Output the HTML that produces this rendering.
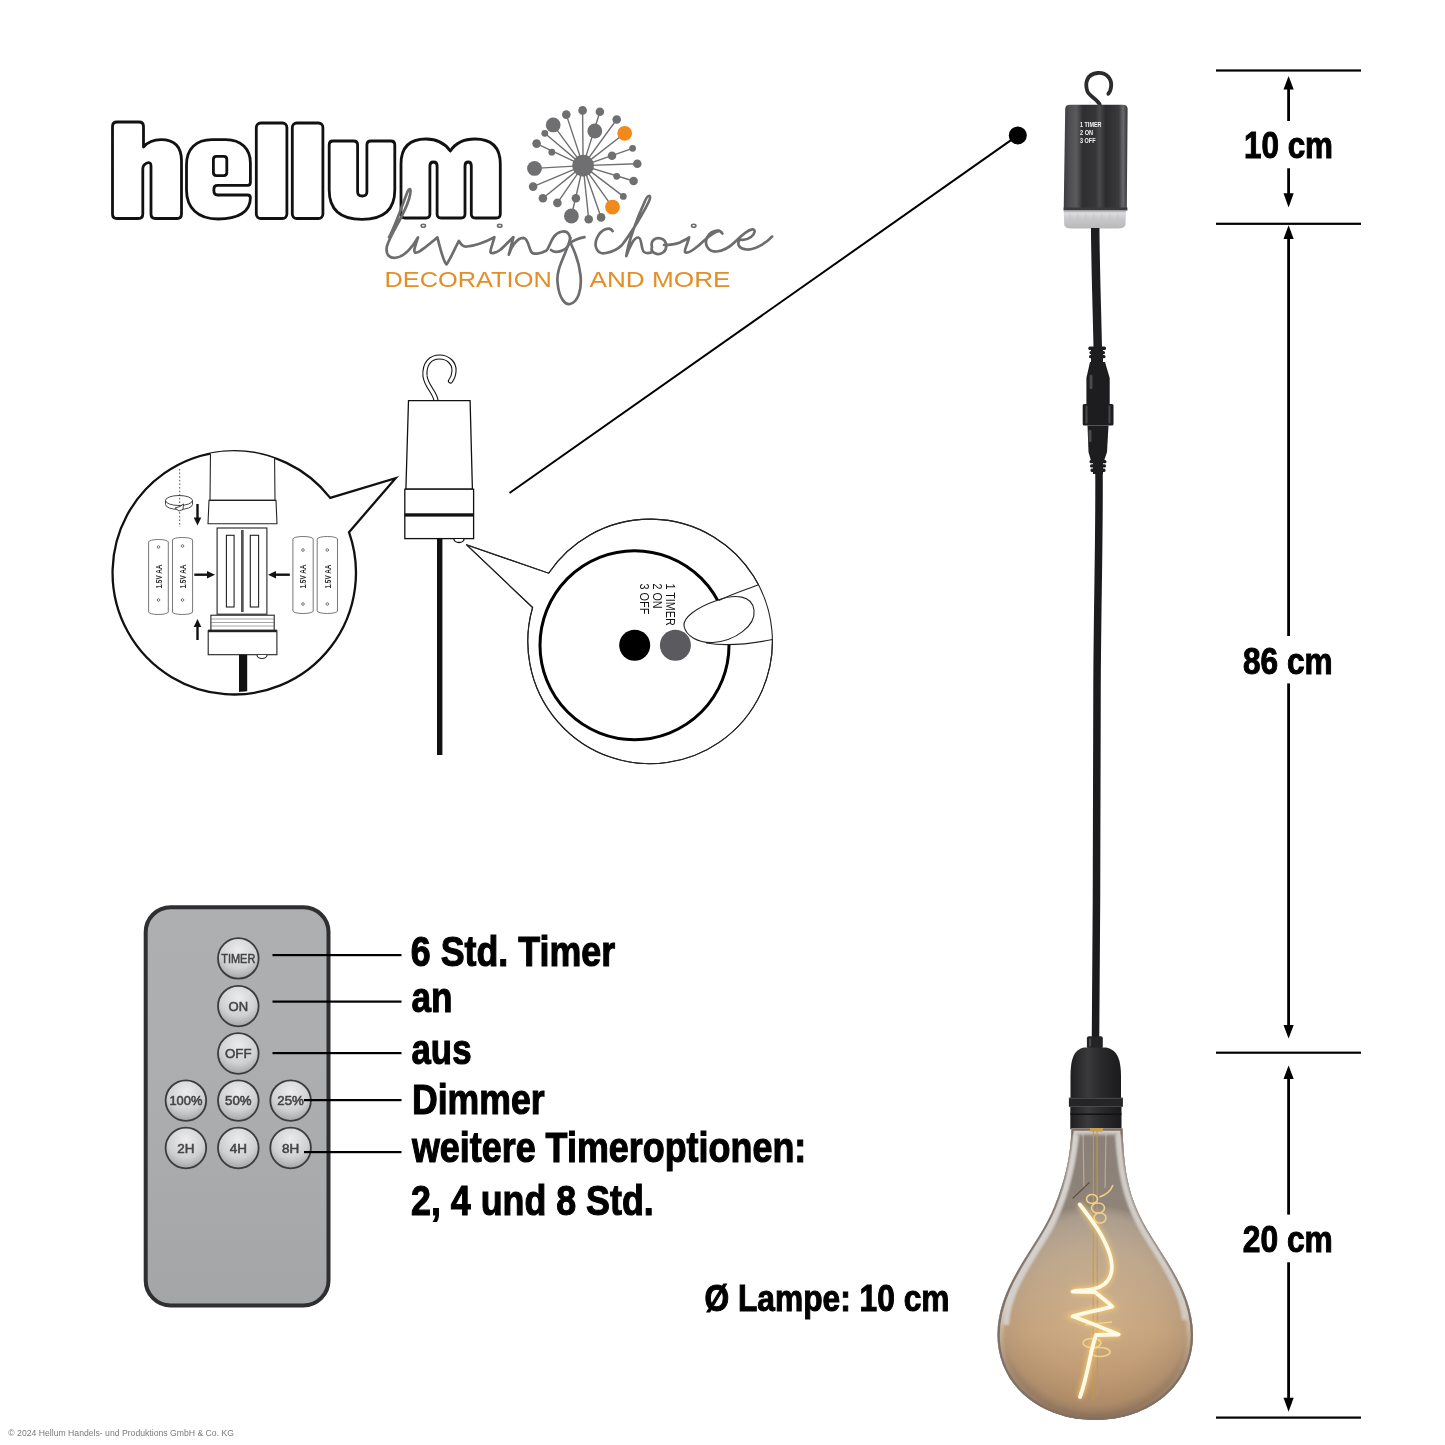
<!DOCTYPE html>
<html><head><meta charset="utf-8">
<style>
html,body{margin:0;padding:0;background:#fff;}
body{width:1445px;height:1445px;overflow:hidden;position:relative;}
svg{position:absolute;left:0;top:0;will-change:transform;}
text{font-family:"Liberation Sans",sans-serif;}
</style></head>
<body>
<svg width="1445" height="1445" viewBox="0 0 1445 1445">
<defs>
<radialGradient id="btnG" cx="0.5" cy="0.3" r="0.75">
<stop offset="0" stop-color="#ececed"/><stop offset="0.6" stop-color="#cfd0d2"/><stop offset="1" stop-color="#9c9d9f"/></radialGradient>
<linearGradient id="boxG" x1="0" y1="0" x2="1" y2="0">
<stop offset="0" stop-color="#3c3c3e"/><stop offset="0.1" stop-color="#505052"/><stop offset="0.2" stop-color="#5a5a5c"/><stop offset="0.3" stop-color="#2e2e30"/>
<stop offset="0.5" stop-color="#363638"/><stop offset="0.56" stop-color="#4a4a4c"/><stop offset="0.66" stop-color="#2c2c2e"/>
<stop offset="0.86" stop-color="#3a3a3c"/><stop offset="0.93" stop-color="#6a6a6c"/><stop offset="1" stop-color="#333335"/>
</linearGradient>
<linearGradient id="clearG" x1="0" y1="0" x2="0" y2="1">
<stop offset="0" stop-color="#8e8e90"/><stop offset="0.15" stop-color="#dcdcde"/><stop offset="0.5" stop-color="#c8c8ca"/><stop offset="1" stop-color="#b8b8ba"/>
</linearGradient>
<linearGradient id="sockG" x1="0" y1="0" x2="1" y2="0">
<stop offset="0" stop-color="#1f1f21"/><stop offset="0.35" stop-color="#3a3a3c"/><stop offset="0.6" stop-color="#2a2a2c"/><stop offset="1" stop-color="#1a1a1c"/>
</linearGradient>
<linearGradient id="bulbV" x1="0" y1="1128" x2="0" y2="1420" gradientUnits="userSpaceOnUse">
<stop offset="0" stop-color="#a49e98"/><stop offset="0.25" stop-color="#b0a59a"/><stop offset="0.45" stop-color="#baa68e"/><stop offset="0.7" stop-color="#c4a27c"/><stop offset="1" stop-color="#b48a62"/>
</linearGradient>
<radialGradient id="bulbR" cx="1095" cy="1310" r="105" gradientUnits="userSpaceOnUse">
<stop offset="0" stop-color="#e2c49a" stop-opacity="0.45"/><stop offset="0.6" stop-color="#d6b48a" stop-opacity="0.15"/><stop offset="0.9" stop-color="#8a7868" stop-opacity="0.2"/><stop offset="1" stop-color="#6e6258" stop-opacity="0.5"/>
</radialGradient>
<linearGradient id="bandG" x1="0" y1="1128" x2="0" y2="1420" gradientUnits="userSpaceOnUse">
<stop offset="0" stop-color="#d8d4d0" stop-opacity="0.9"/><stop offset="0.6" stop-color="#dcd6d0" stop-opacity="0.85"/><stop offset="0.82" stop-color="#c0a486" stop-opacity="0.4"/><stop offset="1" stop-color="#8a6a50" stop-opacity="0.6"/>
</linearGradient>
<filter id="soft2" x="-20%" y="-10%" width="140%" height="120%"><feGaussianBlur stdDeviation="0.9"/></filter>
<filter id="soft" x="-10%" y="-10%" width="120%" height="120%"><feGaussianBlur stdDeviation="1.5"/></filter>
<filter id="glow" x="-50%" y="-50%" width="200%" height="200%"><feGaussianBlur stdDeviation="2.5"/></filter>
<linearGradient id="remG" x1="0" y1="0" x2="0" y2="1">
<stop offset="0" stop-color="#aeafb1"/><stop offset="0.5" stop-color="#acadaf"/><stop offset="1" stop-color="#a4a5a7"/>
</linearGradient>
</defs>
<rect width="1445" height="1445" fill="#fff"/>

<!-- ===== LOGO ===== -->
<g id="logo">
<g fill="#fff" stroke="#111" stroke-width="2.8" stroke-linejoin="round" fill-rule="evenodd">
  <!-- h -->
  <path d="M117,122 L139,122 Q143.5,122 143.5,126.5 L143.5,147 Q150,139.7 161,139.7 Q181.5,139.7 181.5,161 L181.5,214 Q181.5,218.5 177,218.5 L155.5,218.5 Q151,218.5 151,214 L151,166 Q151,161.5 147,163 L146.5,163.2 Q142.8,164.7 142.8,169 L142.8,214 Q142.8,218.5 138.3,218.5 L117,218.5 Q112.5,218.5 112.5,214 L112.5,126.5 Q112.5,122 117,122 Z"/>
  <!-- e -->
  <path d="M212,139.7 L226,139.7 C241,139.7 250.4,149 250.4,163 L250.4,182.5 Q250.4,185.3 247.6,185.3 L217.5,185.3 Q213.9,185.3 213.9,189 L213.9,191.3 Q213.9,195 217.5,195 L247.6,195 Q250.4,195 250.4,198 C250.4,212 238,219 218,219 C198,219 186.5,208 186.5,190 L186.5,165 C186.5,149 196,139.7 212,139.7 Z M216.5,156.3 L223.8,156.3 Q226.8,156.3 226.8,159.3 L226.8,172.6 Q226.8,175.6 223.8,175.6 L216.4,175.6 Q213.4,175.6 213.4,172.6 L213.4,159.3 Q213.4,156.3 216.5,156.3 Z"/>
  <!-- l l -->
  <rect x="256.3" y="123" width="30.6" height="95.5" rx="4.5"/>
  <rect x="292.3" y="123" width="30.6" height="95.5" rx="4.5"/>
  <!-- u -->
  <path d="M333,141 L353.6,141 Q357.6,141 357.6,145 L357.6,192 Q357.6,196 362.2,196 Q366.9,196 366.9,192 L366.9,145 Q366.9,141 370.9,141 L390.8,141 Q394.8,141 394.8,145 L394.8,190 Q394.8,219.4 362,219.4 Q329.2,219.4 329.2,190 L329.2,145 Q329.2,141 333,141 Z"/>
  <!-- m -->
  <path d="M405,218 Q401,218 401,214 L401,164 Q401,139 426,139 Q442,139 450.3,151 Q458,139 475,139 Q500.3,139 500.3,164 L500.3,214 Q500.3,218 496.3,218 L475.3,218 Q471.3,218 471.3,214 L471.3,166 Q471.3,162 468.15,162 Q465,162 465,166 L465,214 Q465,218 461,218 L441.1,218 Q437.1,218 437.1,214 L437.1,166 Q437.1,162 433.5,162 Q429.9,162 429.9,166 L429.9,214 Q429.9,218 425.9,218 Z"/>
</g>
</g>


<g id="dandelion">
<g stroke="#6f6f71" stroke-width="1.4" stroke-linecap="round">
<line x1="583.1" y1="165.6" x2="582.6" y2="110.4"/>
<line x1="583.1" y1="165.6" x2="566.3" y2="114.6"/>
<line x1="583.1" y1="165.6" x2="599.9" y2="111.8"/>
<line x1="583.1" y1="165.6" x2="616.7" y2="119.5"/>
<line x1="583.1" y1="165.6" x2="553.2" y2="124.9"/>
<line x1="583.1" y1="165.6" x2="624.7" y2="133.3"/>
<line x1="583.1" y1="165.6" x2="544.8" y2="133.3"/>
<line x1="583.1" y1="165.6" x2="536.6" y2="143.6"/>
<line x1="583.1" y1="165.6" x2="632.6" y2="148.3"/>
<line x1="583.1" y1="165.6" x2="637.3" y2="163.7"/>
<line x1="583.1" y1="165.6" x2="534.5" y2="168.4"/>
<line x1="583.1" y1="165.6" x2="533.1" y2="186.6"/>
<line x1="583.1" y1="165.6" x2="633.6" y2="181"/>
<line x1="583.1" y1="165.6" x2="542.9" y2="198.3"/>
<line x1="583.1" y1="165.6" x2="557.4" y2="202.9"/>
<line x1="583.1" y1="165.6" x2="571.4" y2="216"/>
<line x1="583.1" y1="165.6" x2="588.7" y2="219.3"/>
<line x1="583.1" y1="165.6" x2="601.1" y2="217.4"/>
<line x1="583.1" y1="165.6" x2="612.5" y2="207.1"/>
<line x1="583.1" y1="165.6" x2="623.3" y2="196.4"/>
</g>
<circle cx="583.1" cy="165.6" r="10.8" fill="#6f6f71"/>
<circle cx="582.6" cy="110.4" r="4.3" fill="#6f6f71"/>
<circle cx="566.3" cy="114.6" r="4.3" fill="#6f6f71"/>
<circle cx="599.9" cy="111.8" r="4.3" fill="#6f6f71"/>
<circle cx="616.7" cy="119.5" r="4.3" fill="#6f6f71"/>
<circle cx="553.2" cy="124.9" r="7.4" fill="#6f6f71"/>
<circle cx="594.8" cy="131" r="7.4" fill="#6f6f71"/>
<circle cx="624.7" cy="133.3" r="7.4" fill="#f28a1a"/>
<circle cx="544.8" cy="133.3" r="3.4" fill="#6f6f71"/>
<circle cx="536.6" cy="143.6" r="4.3" fill="#6f6f71"/>
<circle cx="551.8" cy="152.2" r="3.4" fill="#6f6f71"/>
<circle cx="612" cy="155.7" r="4.3" fill="#6f6f71"/>
<circle cx="632.6" cy="148.3" r="3.4" fill="#6f6f71"/>
<circle cx="637.3" cy="163.7" r="4.3" fill="#6f6f71"/>
<circle cx="534.5" cy="168.4" r="7.4" fill="#6f6f71"/>
<circle cx="533.1" cy="186.6" r="4.3" fill="#6f6f71"/>
<circle cx="616.7" cy="176.3" r="3.4" fill="#6f6f71"/>
<circle cx="633.6" cy="181" r="4.3" fill="#6f6f71"/>
<circle cx="542.9" cy="198.3" r="4.3" fill="#6f6f71"/>
<circle cx="557.4" cy="202.9" r="4.3" fill="#6f6f71"/>
<circle cx="575.9" cy="198.3" r="4.3" fill="#6f6f71"/>
<circle cx="571.4" cy="216" r="7.4" fill="#6f6f71"/>
<circle cx="588.7" cy="219.3" r="4.3" fill="#6f6f71"/>
<circle cx="601.1" cy="217.4" r="4.3" fill="#6f6f71"/>
<circle cx="612.5" cy="207.1" r="7.4" fill="#f28a1a"/>
<circle cx="623.3" cy="196.4" r="3.4" fill="#6f6f71"/>
</g>
<text x="384.5" y="287.4" font-size="22.2" fill="#e38e26" textLength="167.2" lengthAdjust="spacingAndGlyphs">DECORATION</text>
<text x="589.5" y="287.4" font-size="22.2" fill="#e38e26" textLength="141" lengthAdjust="spacingAndGlyphs">AND MORE</text>
<g id="script" fill="none" stroke="#6d6d6f" stroke-width="2.7" stroke-linecap="round" stroke-linejoin="round">
<path d="M389,237.4 C396,224 403,203 407,193 C410,186 412,189 409,199 C404,216 391,233 387,246 C385,255 390,259 397,257.5 C405,256 413,246 418,237.4 C416,244 413,251 415,252.5 C418,254 427,246 437.4,237.4 C440,248 444,262 446.4,264.4 C449,262 455,248 458.9,240.9 C461,245 464,247 467,246.5 C474,246 486,242 494.4,237.1 C493,243 490,250 490.5,252.3 C491,254 496,253 500,250 C505,246 510,240 513.4,237.1 C512,243 510,250 508.8,254.6 C511,247 517,238 523.3,237.8 C528,238 529,248 531,251.5 C533,255 540,254 546.1,250.8 C550,248 551,234 561.3,231.7 C568,230 572,236 569,244 C566,251 556,254 551,250"/>
<path d="M570.5,238 C566,255 556,268 557.5,282 C559,300 566,305 570,304 C578,302 582,290 580.5,275 C579,262 574,250 571,244"/>
<path d="M570,243.3 C574,240 580,238 584.5,237.2"/>
<path d="M612.6,231.1 C610,226 601,229 597,238 C593,247 598,255 606,253 C612,252 618,249 622,245 C632,232 644,212 649.1,201 C652,194 648,194 645,201 C637,218 628,243 626.3,256.2 C629,248 634,237 638.5,237.5 C642,238 641,250 644,252 C647,254 650,253 652,252"/>
<path d="M652,247 C650,240 656,237 661,238.5 C667,240 668,249 663,252.5 C658,256 650,253 652,247 Z"/>
<path d="M664,245 C670,245 676,244 680,242.5 C683,241 687,239 689.1,237.4 C688,243 684,250 685,252 C687,254 692,251 698,246 C705,240 712,232 719,230.8"/>
<path d="M722.3,233.5 C720,229 712,230 708,236 C703,244 708,252 716.5,251.5 C724,251 731,246 736,241 C742,235 748,230 752.2,229.4 C756,229 755,234 751,237 C747,240 742,240 739.8,239.5 C736,245 740,249 747,249.5 C755,250 766,243 772.1,236.6"/>
<ellipse cx="423.3" cy="225.7" rx="2.2" ry="1.5" stroke-width="1.6"/>
<ellipse cx="499.7" cy="225.7" rx="2.2" ry="1.5" stroke-width="1.6"/>
<ellipse cx="693.7" cy="225.8" rx="2.2" ry="1.5" stroke-width="1.6"/>
</g>

<!-- ===== LEADER LINE + DOT ===== -->
<line x1="509.5" y1="493" x2="1017.8" y2="135.4" stroke="#000" stroke-width="2"/>
<circle cx="1017.8" cy="135.4" r="9" fill="#000"/>

<!-- ===== ILLUSTRATION ===== -->
<g id="illus">
<!-- central housing -->
<g fill="none" stroke-linecap="round">
  <path d="M436,400.6 C435,392 426,386 425,376 C424,363 431,357 439.5,357 C448,357 454.5,363 454,371 C453.8,376 452,379 450.5,381" stroke="#111" stroke-width="5.2"/>
  <path d="M436,400.6 C435,392 426,386 425,376 C424,363 431,357 439.5,357 C448,357 454.5,363 454,371 C453.8,376 452,379 450.5,381" stroke="#fff" stroke-width="3"/>
</g>
<g fill="#fff" stroke="#111" stroke-width="1.3">
  <path d="M408.5,400.6 L470.1,400.6 L472.4,489.2 L405.9,489.2 Z"/>
  <rect x="404.8" y="489.2" width="68.8" height="49.4"/>
  <path d="M454,539 A5,3.5 0 0 0 464,539"/>
</g>
<rect x="404.8" y="513.3" width="68.8" height="3.3" fill="#111"/>
<rect x="437" y="539" width="5.4" height="216" fill="#111"/>

<!-- left bubble -->
<path d="M349,532.2 A121.7,121.7 0 1 1 330.2,497.9 L395.6,478.2 Z" fill="#fff" stroke="#111" stroke-width="2.3" stroke-linejoin="miter"/>
<clipPath id="lbclip"><circle cx="233.4" cy="571.7" r="120.5"/></clipPath>
<g clip-path="url(#lbclip)">
  <g fill="#fff" stroke="#222" stroke-width="1.1">
    <path d="M210.6,440 L274.4,440 L275,500.4 L210,500.4 Z"/>
    <path d="M209,500.4 L276,500.4 L277,523.8 L208,523.8 Z"/>
    <rect x="217.1" y="528" width="49.8" height="86.2"/>
    <rect x="226.4" y="535.3" width="7.7" height="71.7"/>
    <rect x="250.3" y="535.3" width="8.3" height="71.7"/>
    <rect x="210.9" y="615.2" width="63.3" height="15.6"/>
    <rect x="208.2" y="630.8" width="68.7" height="23.9"/>
    <path d="M257,655 A5,3.5 0 0 0 267,655"/>
  </g>
  <rect x="241" y="530" width="2.7" height="82" fill="#555"/>
  <g stroke="#666" stroke-width="0.6">
    <line x1="211" y1="619" x2="274" y2="619"/><line x1="211" y1="622.5" x2="274" y2="622.5"/><line x1="211" y1="626" x2="274" y2="626"/>
  </g>
  <rect x="208.2" y="629.6" width="68.7" height="2.6" fill="#222"/>
  <rect x="239" y="654.7" width="8.2" height="40" fill="#111"/>
  <!-- rotate icon + dotted line -->
  <line x1="179.7" y1="469" x2="179.7" y2="527" stroke="#444" stroke-width="0.9" stroke-dasharray="1.6 2"/>
  <g fill="none" stroke="#333" stroke-width="0.9">
    <path d="M165.5,500.5 A13.5,5 0 0 1 192.5,500.5 L192.5,504.5 A13.5,5 0 0 1 165.5,504.5 Z"/>
    <path d="M165.5,500.5 A13.5,5 0 0 0 192.5,500.5"/>
  </g>
  <path d="M175,508 L180,506.5 L183.5,504 L183,509.5 L179,511 Z" fill="#fff" stroke="#333" stroke-width="0.9"/>
  <!-- arrows -->
  <g fill="#111">
    <rect x="196.3" y="504" width="2.4" height="15"/><path d="M197.5,525.5 L201.3,517.5 L193.7,517.5 Z"/>
    <rect x="196.3" y="626" width="2.4" height="14"/><path d="M197.5,619 L201.3,627 L193.7,627 Z"/>
    <rect x="194.3" y="573.5" width="14" height="2.4"/><path d="M215,574.7 L207,570.9 L207,578.5 Z"/>
    <rect x="275" y="573.5" width="14.8" height="2.4"/><path d="M268,574.7 L276,570.9 L276,578.5 Z"/>
  </g>
  <!-- batteries -->
  <g fill="#fff" stroke="#555" stroke-width="0.8">
    <path d="M148.6,542 A9.85,2.5 0 0 1 168.3,542 L168.3,612 A9.85,2.5 0 0 1 148.6,612 Z"/>
    <path d="M172.5,540 A10,2.5 0 0 1 192.6,540 L192.6,612 A10,2.5 0 0 1 172.5,612 Z"/>
    <path d="M292.9,539 A10.15,2.5 0 0 1 313.2,539 L313.2,611 A10.15,2.5 0 0 1 292.9,611 Z"/>
    <path d="M317.2,539 A10.15,2.5 0 0 1 337.5,539 L337.5,611 A10.15,2.5 0 0 1 317.2,611 Z"/>
    <circle cx="158.5" cy="547" r="1.3"/><circle cx="158.5" cy="600" r="1.3"/>
    <circle cx="182.5" cy="546" r="1.3"/><circle cx="182.5" cy="600" r="1.3"/>
    <circle cx="303" cy="550" r="1.3"/><circle cx="303" cy="604" r="1.3"/>
    <circle cx="327.3" cy="550" r="1.3"/><circle cx="327.3" cy="604" r="1.3"/>
  </g>
  <g font-size="9" fill="#2a2a2a" font-weight="bold">
    <text transform="translate(161.8,588.5) rotate(-90)" textLength="24" lengthAdjust="spacingAndGlyphs">1.5V AA</text>
    <text transform="translate(185.8,588.5) rotate(-90)" textLength="24" lengthAdjust="spacingAndGlyphs">1.5V AA</text>
    <text transform="translate(306.3,588.5) rotate(-90)" textLength="24" lengthAdjust="spacingAndGlyphs">1.5V AA</text>
    <text transform="translate(330.6,588.5) rotate(-90)" textLength="24" lengthAdjust="spacingAndGlyphs">1.5V AA</text>
  </g>
</g>

<!-- right bubble -->
<path d="M548.6,573.2 A122.3,122.3 0 1 1 532.6,607.5 L466.4,544.7 Z" fill="#fff" stroke="#222" stroke-width="1.1"/>
<circle cx="634.5" cy="645.2" r="94.5" fill="none" stroke="#000" stroke-width="3"/>
<circle cx="634.7" cy="645.2" r="15.5" fill="#000"/>
<circle cx="675.4" cy="645.2" r="15.5" fill="#5b5a5e"/>
<g font-size="12.6" fill="#111">
  <text transform="translate(666.4,583.5) rotate(90)" textLength="42.3" lengthAdjust="spacingAndGlyphs">1 TIMER</text>
  <text transform="translate(652.7,583.5) rotate(90)" textLength="25.1" lengthAdjust="spacingAndGlyphs">2 ON</text>
  <text transform="translate(639.7,583.5) rotate(90)" textLength="30.8" lengthAdjust="spacingAndGlyphs">3 OFF</text>
</g>
<!-- finger -->
<path d="M760,583.5 C745,590 728,596 712,603 C692,611 681,619 684,628 C688,639 700,644 713,645 C735,646 755,642 773.5,639 L778,583 Z" fill="#fff"/>
<g fill="none" stroke="#222" stroke-width="1.1">
  <path d="M758.7,584.7 C745,590 730,595 718.8,600.6"/>
  <path d="M684,626 C683,618 695,608 718,600 C735,594 752,595 754,610 C756,626 735,641 713,642.5 C698,643 686,636 684,626 Z"/>
  <path d="M706,643 C730,647 755,643 772.4,639.5"/>
</g>
<path d="M548.6,573.2 A122.3,122.3 0 1 1 532.6,607.5 L466.4,544.7 Z" fill="none" stroke="#222" stroke-width="1.1"/>
</g>


<!-- ===== PRODUCT PHOTO ===== -->
<g id="photo">
<!-- hook -->
<path d="M1099.8,104.5 C1097,99 1089,96 1087.3,91 C1085,84 1086,74 1097.8,73 C1107,72.5 1111.5,79 1111.2,85.5 C1111,90 1109.5,92.5 1108.3,93.8" fill="none" stroke="#2b2b2d" stroke-width="3.8" stroke-linecap="round"/>
<!-- box -->
<path d="M1065.2,109 Q1065.2,104.7 1070,104.7 L1123,104.7 Q1127.6,104.7 1127.6,109 L1126.8,210 L1063.7,210 Z" fill="url(#boxG)"/>
<rect x="1063.7" y="207.5" width="63.7" height="3" fill="#3a3a3c"/>
<g fill="#f4f4f4" font-size="6.6" font-weight="bold">
  <text x="1080" y="127.3" textLength="21.5" lengthAdjust="spacingAndGlyphs">1 TIMER</text>
  <text x="1080" y="135.2" textLength="13" lengthAdjust="spacingAndGlyphs">2 ON</text>
  <text x="1080" y="143.1" textLength="15.5" lengthAdjust="spacingAndGlyphs">3 OFF</text>
</g>
<!-- clear base -->
<path d="M1063.7,210 L1126,210 L1125.5,225 Q1124,228.5 1118,228.5 L1071,228.5 Q1065,228.5 1064.2,225 Z" fill="url(#clearG)"/>
<g stroke="#c4c4c6" stroke-width="0.8">
  <line x1="1070" y1="214" x2="1070" y2="226"/><line x1="1078" y1="214" x2="1078" y2="226"/><line x1="1086" y1="214" x2="1086" y2="226"/><line x1="1094" y1="214" x2="1094" y2="226"/><line x1="1102" y1="214" x2="1102" y2="226"/><line x1="1110" y1="214" x2="1110" y2="226"/><line x1="1118" y1="214" x2="1118" y2="226"/>
</g>
<!-- cable top -->
<path d="M1095.2,228 C1095.5,270 1097,310 1097.8,350" fill="none" stroke="#1e1e20" stroke-width="8.5"/>
<!-- connector -->
<g fill="#1d1d1f">
  <rect x="1088.3" y="346.5" width="17.7" height="3.6" rx="1.5"/>
  <rect x="1089.5" y="351" width="15.5" height="3.2" rx="1.5"/>
  <rect x="1089" y="355" width="16.5" height="3.2" rx="1.5"/>
  <rect x="1091" y="349" width="12" height="14"/>
  <path d="M1090,362 L1105,362 L1109.7,378 L1109.7,404 L1086.4,404 L1086.4,378 Z"/>
  <rect x="1082.7" y="404" width="30.8" height="21.4" rx="1.5"/>
  <path d="M1087.5,425.4 L1108.5,425.4 L1107,452 L1104,461 L1091,461 L1088.5,452 Z"/>
  <rect x="1089.5" y="460" width="17" height="3.2" rx="1.5"/>
  <rect x="1090" y="464.2" width="16" height="3.2" rx="1.5"/>
  <rect x="1090.5" y="468.4" width="15" height="3.6" rx="1.5"/>
  <rect x="1093" y="460" width="10" height="14"/>
</g>
<g fill="#4a4a4c">
  <rect x="1089.5" y="375" width="3" height="14" rx="1"/>
  <rect x="1088.5" y="430" width="3" height="12" rx="1"/>
  <rect x="1085.5" y="405.5" width="2" height="18"/>
  <rect x="1108.5" y="405.5" width="2" height="18"/>
</g>
<!-- long cable -->
<path d="M1099,472 C1099.5,540 1097,620 1097,700 C1097,800 1096.5,930 1095.5,1040" fill="none" stroke="#1b1b1d" stroke-width="7.5"/>
<!-- socket -->
<rect x="1086.9" y="1036.2" width="15.9" height="12.5" rx="2" fill="#232325"/>
<rect x="1089" y="1038.5" width="2.2" height="8" fill="#48484a"/>
<path d="M1084,1047.5 L1106,1047.5 C1118,1050 1121,1060 1121,1078 L1121,1098 L1070.5,1098 L1070.5,1078 C1070.5,1060 1073,1050 1084,1047.5 Z" fill="url(#sockG)"/>
<rect x="1068.9" y="1097.8" width="54" height="9" fill="#252527"/>
<rect x="1068.9" y="1097.8" width="54" height="1.2" fill="#444446"/>
<rect x="1070.3" y="1106.8" width="51.2" height="22.4" fill="url(#sockG)"/>
<rect x="1070.3" y="1113.5" width="51.2" height="1.4" fill="#111"/>
<!-- bulb -->
<clipPath id="bulbClip"><path d="M1071.5,1128.5 L1122.5,1128.5 C1123.5,1160 1126,1182 1135,1205 C1150,1245 1193,1283 1193,1335 C1193,1385 1150,1420 1095,1420 C1040,1420 997.5,1385 997.5,1335 C997.5,1283 1040,1245 1055,1205 C1064,1182 1070.5,1160 1071.5,1128.5 Z"/></clipPath>
<g clip-path="url(#bulbClip)">
<rect x="990" y="1125" width="210" height="300" fill="url(#bulbV)"/>
<rect x="990" y="1125" width="210" height="300" fill="url(#bulbR)"/>
<path d="M1071.5,1128.5 L1122.5,1128.5 C1123.5,1160 1126,1182 1135,1205 C1150,1245 1193,1283 1193,1335 C1193,1385 1150,1420 1095,1420 C1040,1420 997.5,1385 997.5,1335 C997.5,1283 1040,1245 1055,1205 C1064,1182 1070.5,1160 1071.5,1128.5 Z" fill="none" stroke="url(#bandG)" stroke-width="12" filter="url(#soft)"/>
<path d="M1071.5,1128.5 L1122.5,1128.5 C1123.5,1160 1126,1182 1135,1205 C1150,1245 1193,1283 1193,1335 C1193,1385 1150,1420 1095,1420 C1040,1420 997.5,1385 997.5,1335 C997.5,1283 1040,1245 1055,1205 C1064,1182 1070.5,1160 1071.5,1128.5 Z" fill="none" stroke="#7e7168" stroke-width="4.5"/>
<path d="M1006,1325 C1008,1288 1033,1258 1050,1228 C1062,1205 1070,1180 1076,1135" fill="none" stroke="#d6d2cf" stroke-width="6" opacity="0.9" filter="url(#soft2)"/>
<path d="M1185,1320 C1182,1288 1160,1258 1143,1230 C1131,1208 1122,1185 1118,1135" fill="none" stroke="#d2cdc9" stroke-width="6" opacity="0.85" filter="url(#soft2)"/>
</g>
<!-- stem -->
<g fill="none" stroke="#cfc2aa" stroke-width="1.1" opacity="0.7">
  <path d="M1083,1132 L1084,1188 M1106,1132 L1105,1188"/>
</g>
<rect x="1090" y="1128" width="13" height="4" fill="#d9a650" opacity="0.8"/>
<g fill="none" stroke="#c9993e" stroke-width="1.1" opacity="0.9">
  <path d="M1093.5,1130 L1093,1400"/>
  <path d="M1097,1130 L1097.5,1395"/>
</g>
<path d="M1072.7,1198.3 L1089.5,1182.3" stroke="#5a4a3a" stroke-width="1.1"/>
<g fill="none" stroke="#f4d58a" stroke-width="1.6" opacity="0.95">
  <ellipse cx="1092" cy="1199" rx="5.5" ry="4.5"/>
  <ellipse cx="1098" cy="1208" rx="6.5" ry="5"/>
  <ellipse cx="1100" cy="1218" rx="6" ry="5"/>
  <path d="M1099.4,1197 C1106,1195 1111,1190 1113,1185"/>
  <ellipse cx="1092" cy="1343" rx="9" ry="4.5"/>
  <ellipse cx="1100" cy="1352" rx="10" ry="4.5"/>
  <path d="M1085,1325 L1112,1322"/>
</g>
<g filter="url(#glow)">
<path d="M1079.6,1204.4 C1090,1218 1104,1235 1110,1255 C1115,1272 1110,1286 1093,1289 C1085,1291 1076,1290 1072.6,1291.6 L1095,1292 C1102,1298 1108,1302 1112.3,1306.6 C1100,1310 1082,1313 1072.6,1316.3 C1088,1322 1108,1330 1118.7,1334.5 L1096,1335 C1090,1352 1088,1375 1080,1397" fill="none" stroke="#ffcf6a" stroke-width="6" opacity="0.75"/>
</g>
<path d="M1079.6,1204.4 C1090,1218 1104,1235 1110,1255 C1115,1272 1110,1286 1093,1289 C1085,1291 1076,1290 1072.6,1291.6 L1095,1292 C1102,1298 1108,1302 1112.3,1306.6 C1100,1310 1082,1313 1072.6,1316.3 C1088,1322 1108,1330 1118.7,1334.5 L1096,1335 C1090,1352 1088,1375 1080,1397" fill="none" stroke="#fffae6" stroke-width="3.8" stroke-linecap="round" stroke-linejoin="round"/>
</g>


<!-- ===== DIMENSIONS ===== -->
<g id="dims" fill="#000" stroke="none">
  <rect x="1216" y="69.4" width="145" height="2.2"/>
  <rect x="1216" y="222.7" width="145" height="2.2"/>
  <rect x="1216" y="1051.6" width="145" height="2.2"/>
  <rect x="1216" y="1416.5" width="145" height="2.2"/>
  <!-- 10cm arrows -->
  <rect x="1287.2" y="88" width="2.8" height="33"/>
  <path d="M1288.6,76 L1293.7,89.6 L1283.5,89.6 Z"/>
  <rect x="1287.2" y="168.3" width="2.8" height="26"/>
  <path d="M1288.6,207.4 L1293.7,193.3 L1283.5,193.3 Z"/>
  <!-- 86cm -->
  <rect x="1287.2" y="238" width="2.8" height="398"/>
  <path d="M1288.6,225.3 L1293.7,239 L1283.5,239 Z"/>
  <rect x="1287.2" y="683.4" width="2.8" height="343"/>
  <path d="M1288.6,1038.6 L1293.7,1025 L1283.5,1025 Z"/>
  <!-- 20cm -->
  <rect x="1287.2" y="1078" width="2.8" height="136.6"/>
  <path d="M1288.6,1065.4 L1293.7,1079 L1283.5,1079 Z"/>
  <rect x="1287.2" y="1262.3" width="2.8" height="137"/>
  <path d="M1288.6,1411.8 L1293.7,1397.7 L1283.5,1397.7 Z"/>
</g>
<g font-weight="bold" fill="#000" stroke="#000" stroke-width="1">
  <text x="1244" y="158" font-size="36" textLength="89" lengthAdjust="spacingAndGlyphs">10 cm</text>
  <text x="1243" y="673.5" font-size="36" textLength="89.6" lengthAdjust="spacingAndGlyphs">86 cm</text>
  <text x="1242.8" y="1252.3" font-size="36" textLength="90" lengthAdjust="spacingAndGlyphs">20 cm</text>
  <text x="704.5" y="1311.1" font-size="36" textLength="245" lengthAdjust="spacingAndGlyphs">Ø Lampe: 10 cm</text>
</g>

<!-- ===== REMOTE ===== -->
<g id="remote">
<rect x="145.7" y="907.2" width="182.8" height="398.2" rx="25" ry="25" fill="url(#remG)" stroke="#2f2f31" stroke-width="4"/>
<circle cx="238.3" cy="958.4" r="20.3" fill="url(#btnG)" stroke="#3c3c3e" stroke-width="1.8"/>
<text x="238.3" y="963.0" font-size="12.8" fill="#444446" stroke="#444446" stroke-width="0.55" text-anchor="middle" textLength="34" lengthAdjust="spacingAndGlyphs">TIMER</text>
<circle cx="238.3" cy="1006.1" r="20.3" fill="url(#btnG)" stroke="#3c3c3e" stroke-width="1.8"/>
<text x="238.3" y="1010.7" font-size="12.8" fill="#444446" stroke="#444446" stroke-width="0.55" text-anchor="middle" textLength="19.5" lengthAdjust="spacingAndGlyphs">ON</text>
<circle cx="238.3" cy="1053.5" r="20.3" fill="url(#btnG)" stroke="#3c3c3e" stroke-width="1.8"/>
<text x="238.3" y="1058.1" font-size="12.8" fill="#444446" stroke="#444446" stroke-width="0.55" text-anchor="middle" textLength="26.5" lengthAdjust="spacingAndGlyphs">OFF</text>
<circle cx="185.9" cy="1100.6" r="20.3" fill="url(#btnG)" stroke="#3c3c3e" stroke-width="1.8"/>
<text x="185.9" y="1105.2" font-size="12.8" fill="#444446" stroke="#444446" stroke-width="0.55" text-anchor="middle" textLength="33" lengthAdjust="spacingAndGlyphs">100%</text>
<circle cx="238.3" cy="1100.6" r="20.3" fill="url(#btnG)" stroke="#3c3c3e" stroke-width="1.8"/>
<text x="238.3" y="1105.2" font-size="12.8" fill="#444446" stroke="#444446" stroke-width="0.55" text-anchor="middle" textLength="26.6" lengthAdjust="spacingAndGlyphs">50%</text>
<circle cx="290.6" cy="1100.6" r="20.3" fill="url(#btnG)" stroke="#3c3c3e" stroke-width="1.8"/>
<text x="290.6" y="1105.2" font-size="12.8" fill="#444446" stroke="#444446" stroke-width="0.55" text-anchor="middle" textLength="26.6" lengthAdjust="spacingAndGlyphs">25%</text>
<circle cx="185.9" cy="1148" r="20.3" fill="url(#btnG)" stroke="#3c3c3e" stroke-width="1.8"/>
<text x="185.9" y="1152.6" font-size="12.8" fill="#444446" stroke="#444446" stroke-width="0.55" text-anchor="middle" textLength="17.2" lengthAdjust="spacingAndGlyphs">2H</text>
<circle cx="238.3" cy="1148" r="20.3" fill="url(#btnG)" stroke="#3c3c3e" stroke-width="1.8"/>
<text x="238.3" y="1152.6" font-size="12.8" fill="#444446" stroke="#444446" stroke-width="0.55" text-anchor="middle" textLength="17.2" lengthAdjust="spacingAndGlyphs">4H</text>
<circle cx="290.6" cy="1148" r="20.3" fill="url(#btnG)" stroke="#3c3c3e" stroke-width="1.8"/>
<text x="290.6" y="1152.6" font-size="12.8" fill="#444446" stroke="#444446" stroke-width="0.55" text-anchor="middle" textLength="17.2" lengthAdjust="spacingAndGlyphs">8H</text>
</g>

<!-- labels -->
<g fill="#000" stroke="none">
  <rect x="272.5" y="954" width="129" height="2.2"/>
  <rect x="272.5" y="1000.5" width="129" height="2.2"/>
  <rect x="272.5" y="1052" width="129" height="2.2"/>
  <rect x="304" y="1099" width="97.5" height="2.2"/>
  <rect x="304" y="1151" width="97.5" height="2.2"/>
</g>
<g font-weight="bold" fill="#000" font-size="42" stroke="#000" stroke-width="1.1">
  <text x="410.8" y="965.7" textLength="204.3" lengthAdjust="spacingAndGlyphs">6 Std. Timer</text>
  <text x="411.5" y="1012.2" textLength="41" lengthAdjust="spacingAndGlyphs">an</text>
  <text x="411.5" y="1063.7" textLength="60" lengthAdjust="spacingAndGlyphs">aus</text>
  <text x="411.9" y="1113.6" textLength="132.8" lengthAdjust="spacingAndGlyphs">Dimmer</text>
  <text x="411.9" y="1162.4" textLength="394.4" lengthAdjust="spacingAndGlyphs">weitere Timeroptionen:</text>
  <text x="411" y="1214.5" textLength="242.7" lengthAdjust="spacingAndGlyphs">2, 4 und 8 Std.</text>
</g>

<text x="8.3" y="1435.5" font-size="9.5" fill="#7a7a7a" textLength="225.7" lengthAdjust="spacingAndGlyphs">© 2024 Hellum Handels- und Produktions GmbH &amp; Co. KG</text>

</svg>
</body></html>
